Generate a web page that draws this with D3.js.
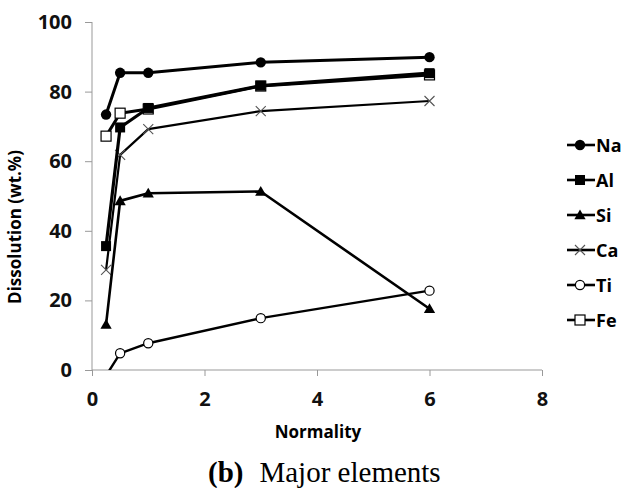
<!DOCTYPE html>
<html>
<head>
<meta charset="utf-8">
<script src="https://cdn.jsdelivr.net/npm/d3@7"></script>
<style>
  body { margin: 0; background: #fff; }
  .axis path, .axis line { stroke: #999; }
  .axis text { font-family: "Open Sans", sans-serif; font-weight: bold; font-size: 20px; fill: #111; }
</style>
</head>
<body>
<div id="chart"></div>
<script>
// normality values (x)
var normality = [0.25, 0.5, 1, 3, 6];

// dissolution (wt.%) per element
var naValues = [73.4, 85.4, 85.4, 88.4, 89.9];
var alValues = [35.6, 69.7, 75.3, 81.7, 85.3];
var siValues = [13.1, 48.6, 50.8, 51.3, 17.6];
var caValues = [28.8, 61.8, 69.2, 74.4, 77.3];
var tiValues = [-1.6, 4.8, 7.7, 14.9, 22.8];
var feValues = [67.2, 73.8, 75.0, 81.6, 84.8];

var seriesNames = ["Na", "Al", "Si", "Ca", "Ti", "Fe"];
var xTicks = [0, 2, 4, 6, 8];
var yTicks = [0, 20, 40, 60, 80, 100];

var series = [
  { name: "Na", values: naValues, symbol: "circleFilled", width: 3 },
  { name: "Al", values: alValues, symbol: "squareFilled", width: 3.2 },
  { name: "Si", values: siValues, symbol: "triangle", width: 2.6 },
  { name: "Ca", values: caValues, symbol: "cross", width: 2.2 },
  { name: "Ti", values: tiValues, symbol: "circleOpen", width: 2.4 },
  { name: "Fe", values: feValues, symbol: "squareOpen", width: 3 }
];

var margin = { top: 22, right: 83, bottom: 118, left: 92 };
var width = 625 - margin.left - margin.right,
    height = 488 - margin.top - margin.bottom;

var svg = d3.select("#chart").append("svg")
    .attr("width", 625)
    .attr("height", 488)
  .append("g")
    .attr("transform", "translate(" + margin.left + "," + margin.top + ")");

var x = d3.scaleLinear().domain([0, 8]).range([0, width]);
var y = d3.scaleLinear().domain([0, 100]).range([height, 0]);

// clip so points below zero are hidden like the original
svg.append("defs").append("clipPath")
    .attr("id", "clip")
  .append("rect")
    .attr("x", -10).attr("y", -10)
    .attr("width", width + 20)
    .attr("height", height + 10);

var xAxis = d3.axisBottom(x).tickValues(xTicks).tickSize(6).tickPadding(16);
var yAxis = d3.axisLeft(y).tickValues(yTicks).tickSize(7).tickPadding(13);

svg.append("g")
    .attr("class", "x-axis axis")
    .attr("transform", "translate(0," + height + ")")
    .call(xAxis);

svg.append("g")
    .attr("class", "y-axis axis")
    .call(yAxis);

svg.selectAll(".x-axis path.domain").attr("d", "M0,0H" + width);
svg.selectAll(".y-axis path.domain").attr("d", "M0,0V" + height);

// axis titles
svg.append("text")
    .attr("x", 318 - margin.left)
    .attr("y", height + 68)
    .attr("text-anchor", "middle")
    .style("font-family", "Open Sans, sans-serif")
    .style("font-weight", "bold")
    .style("font-size", "17px")
    .text("Normality");

svg.append("text")
    .attr("transform", "translate(" + (-71) + "," + 205 + ") rotate(-90)")
    .attr("text-anchor", "middle")
    .style("font-family", "Open Sans, sans-serif")
    .style("font-weight", "bold")
    .style("font-size", "17px")
    .text("Dissolution (wt.%)");

// caption
var cap = svg.append("text")
    .attr("x", 208 - margin.left)
    .attr("y", height + 112)
    .attr("text-anchor", "start")
    .style("font-family", "Liberation Serif, serif")
    .style("font-size", "29px");
cap.append("tspan").style("font-weight", "bold").text("(b)");
cap.append("tspan").attr("dx", 16).text("Major elements");

var line = d3.line()
    .x(function(d) { return x(d[0]); })
    .y(function(d) { return y(d[1]); });

function drawMarker(g, symbol, cx, cy) {
  if (symbol === "circleFilled") {
    g.append("circle").attr("cx", cx).attr("cy", cy).attr("r", 5.2).attr("fill", "#000");
  } else if (symbol === "circleOpen") {
    g.append("circle").attr("cx", cx).attr("cy", cy).attr("r", 4.6)
      .attr("fill", "#fff").attr("stroke", "#000").attr("stroke-width", 1.2);
  } else if (symbol === "squareFilled") {
    g.append("rect").attr("x", cx - 5).attr("y", cy - 5).attr("width", 10).attr("height", 10).attr("fill", "#000");
  } else if (symbol === "squareOpen") {
    g.append("rect").attr("x", cx - 5).attr("y", cy - 5).attr("width", 10).attr("height", 10)
      .attr("fill", "#fff").attr("stroke", "#000").attr("stroke-width", 1.2);
  } else if (symbol === "triangle") {
    g.append("path").attr("d", d3.symbol().type(d3.symbolTriangle).size(55)())
      .attr("transform", "translate(" + cx + "," + (cy + 1) + ")").attr("fill", "#000");
  } else if (symbol === "cross") {
    g.append("path")
      .attr("d", "M" + (cx - 5) + "," + (cy - 5) + "L" + (cx + 5) + "," + (cy + 5) +
                 "M" + (cx - 5) + "," + (cy + 5) + "L" + (cx + 5) + "," + (cy - 5))
      .attr("stroke", "#555").attr("stroke-width", 1.1).attr("fill", "none");
  }
}

var plot = svg.append("g").attr("clip-path", "url(#clip)");

// draw in reverse so Na/Al sit on top
series.slice().reverse().forEach(function(s) {
  var pts = normality.map(function(n, i) { return [n, s.values[i]]; });
  var g = plot.append("g").attr("class", "series series-" + s.name);
  g.append("path")
    .datum(pts)
    .attr("d", line)
    .attr("fill", "none")
    .attr("stroke", "#000")
    .attr("stroke-width", s.width)
    .attr("stroke-linejoin", "round");
  pts.forEach(function(p) { drawMarker(g, s.symbol, x(p[0]), y(p[1])); });
});

// legend
var legend = svg.append("g")
    .attr("transform", "translate(" + (580 - margin.left) + "," + (145 - margin.top) + ")");

series.forEach(function(s, i) {
  var lg = legend.append("g").attr("transform", "translate(0," + (i * 35) + ")");
  lg.append("line").attr("x1", -13).attr("x2", 15).attr("y1", 0).attr("y2", 0)
    .attr("stroke", "#000").attr("stroke-width", 2.6);
  drawMarker(lg, s.symbol, 0, 0);
  lg.append("text")
    .attr("x", 16)
    .attr("y", 6.5)
    .style("font-family", "Open Sans, sans-serif")
    .style("font-weight", "bold")
    .style("font-size", "18px")
    .text(seriesNames[i]);
});
</script>
</body>
</html>
